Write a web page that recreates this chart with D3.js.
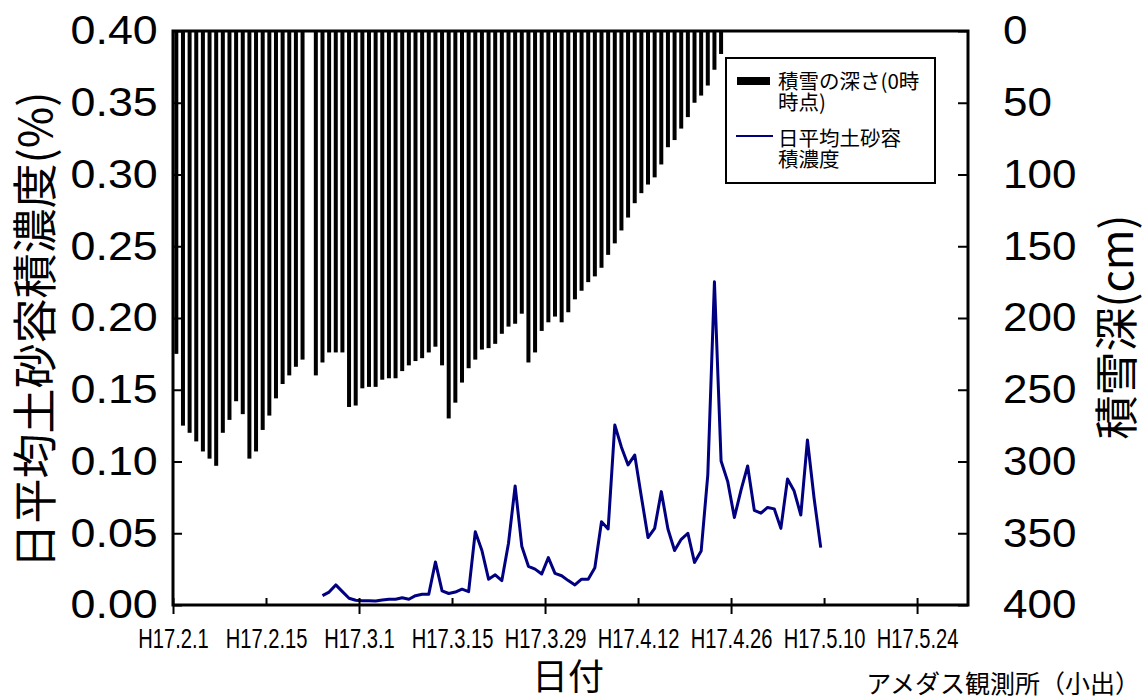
<!DOCTYPE html>
<html>
<head>
<meta charset="utf-8">
<script src="https://cdn.jsdelivr.net/npm/d3@7"></script>
<style>
  body { margin: 0; background: #fff; }
  svg { display: block; }
  .num { font-family: "Liberation Sans", Arial, sans-serif; }
  .jp { font-family: "Noto Sans CJK JP", sans-serif; }
</style>
</head>
<body>
<script>
// snow depth at 0:00 (cm), daily from H17.2.1 (null = no record)
const snowStart = new Date(2005, 1, 1);
const snowDepth = [225, 275, 280, 286, 293, 298, 303, 280, 271, 258,
    267, 298, 293, 278, 268, 256, 246, 240, 234, 229,
    null, 240, 231, 224, 224, 224, 262, 261, 249, 248,
    248, 243, 242, 242, 237, 233, 230, 228, 224, 220,
    233, 270, 259, 245, 235, 229, 222, 221, 218, 211,
    206, 204, 197, 231, 224, 209, 203, 199, 203, 196,
    187, 181, 175, 171, 165, 156, 148, 139, 130, 120,
    113, 107, 102, 93, 81, 76, 68, 60, 50, 45,
    38, 27, 16];

// daily mean sediment concentration (%), daily from H17.2.23
const sedStart = new Date(2005, 1, 23);
const sediment = [0.0065, 0.009, 0.014, 0.0093, 0.0047, 0.0033, 0.003, 0.003, 0.0028, 0.0035,
    0.004, 0.004, 0.005, 0.004, 0.0065, 0.0075, 0.0075, 0.030, 0.0098, 0.008,
    0.009, 0.011, 0.0093, 0.051, 0.038, 0.018, 0.021, 0.017, 0.043, 0.083,
    0.041, 0.027, 0.025, 0.0216, 0.033, 0.022, 0.0204, 0.017, 0.014, 0.018,
    0.018, 0.026, 0.058, 0.053, 0.1254, 0.110, 0.0976, 0.1045, 0.0755, 0.047,
    0.0534, 0.079, 0.053, 0.038, 0.0458, 0.050, 0.0297, 0.0376, 0.0906, 0.2253,
    0.1003, 0.086, 0.061, 0.080, 0.0969, 0.066, 0.064, 0.068, 0.067, 0.0534,
    0.0878, 0.0794, 0.0627, 0.115, 0.0744, 0.040];

const tickDates = ["2005-02-01", "2005-02-15", "2005-03-01", "2005-03-15", "2005-03-29",
    "2005-04-12", "2005-04-26", "2005-05-10", "2005-05-24"];
const tickLabels = ["H17.2.1", "H17.2.15", "H17.3.1", "H17.3.15", "H17.3.29",
    "H17.4.12", "H17.4.26", "H17.5.10", "H17.5.24"];
const leftTicks = [0, 0.05, 0.10, 0.15, 0.20, 0.25, 0.30, 0.35, 0.40];
const rightTicks = [0, 50, 100, 150, 200, 250, 300, 350, 400];

const W = 1142, H = 697;
const plot = { left: 173, right: 968, top: 31, bottom: 605 };

const parse = d3.timeParse("%Y-%m-%d");
const dayOf = (start, i) => d3.timeHour.offset(d3.timeDay.offset(start, i), 12);

const x = d3.scaleTime()
    .domain([new Date(2005, 1, 1), new Date(2005, 4, 31, 16)])
    .range([plot.left, plot.right]);
const yL = d3.scaleLinear().domain([0, 0.4]).range([plot.bottom, plot.top]);
const yR = d3.scaleLinear().domain([0, 400]).range([plot.top, plot.bottom]);

const svg = d3.select("body").append("svg")
    .attr("width", W)
    .attr("height", H);

//Bars (snow depth hanging from top)
const snow = snowDepth.map((v, i) => ({ date: dayOf(snowStart, i), v })).filter(d => d.v != null);
svg.append("g")
    .selectAll("rect")
    .data(snow)
    .enter()
    .append("rect")
    .attr("x", d => x(d.date) - 2)
    .attr("y", yR(0))
    .attr("width", 4)
    .attr("height", d => yR(d.v) - yR(0))
    .attr("fill", "#000");

//Line (sediment)
const sed = sediment.map((v, i) => ({ date: dayOf(sedStart, i), v }));
svg.append("path")
    .datum(sed)
    .attr("fill", "none")
    .attr("stroke", "#000080")
    .attr("stroke-width", 3)
    .attr("stroke-linejoin", "round")
    .attr("d", d3.line().x(d => x(d.date)).y(d => yL(d.v)));

//Left axis
const leftAxis = d3.axisLeft(yL)
    .tickValues(leftTicks)
    .tickFormat(d3.format(".2f"))
    .tickSizeInner(-9)
    .tickSizeOuter(0)
    .tickPadding(13.6);
svg.append("g")
    .attr("transform", "translate(" + plot.left + ",0)")
    .call(leftAxis)
    .call(g => g.select(".domain").remove())
    .call(g => g.selectAll("line").attr("stroke", "#000").attr("stroke-width", 2))
    .call(g => g.selectAll("text").attr("class", "num").attr("font-size", 40)
        .attr("transform", "scale(1.12,1)").attr("fill", "#000"));

//Right axis
const rightAxis = d3.axisRight(yR)
    .tickValues(rightTicks)
    .tickSizeInner(-10)
    .tickSizeOuter(0)
    .tickPadding(31.8);
svg.append("g")
    .attr("transform", "translate(" + plot.right + ",0)")
    .call(rightAxis)
    .call(g => g.select(".domain").remove())
    .call(g => g.selectAll("line").attr("stroke", "#000").attr("stroke-width", 2))
    .call(g => g.selectAll("text").attr("class", "num").attr("font-size", 40)
        .attr("transform", "scale(1.1,1)").attr("fill", "#000"));

//Bottom axis: inward ticks every 14 days with labels
const dates = tickDates.map(parse);
const bottomAxis = d3.axisBottom(x)
    .tickValues(dates)
    .tickFormat((d, i) => tickLabels[i])
    .tickSizeInner(-7)
    .tickSizeOuter(0)
    .tickPadding(23);
svg.append("g")
    .attr("transform", "translate(0," + plot.bottom + ")")
    .call(bottomAxis)
    .call(g => g.select(".domain").remove())
    .call(g => g.selectAll("line").attr("stroke", "#000").attr("stroke-width", 2))
    .call(g => g.selectAll("text")
        .attr("class", "num")
        .attr("font-size", 28)
        .attr("transform", "scale(0.72,1)")
        .attr("fill", "#000"));

//outward ticks every 28 days
const majorAxis = d3.axisBottom(x)
    .tickValues(dates.filter((d, i) => i % 2 == 0))
    .tickFormat("")
    .tickSizeInner(9)
    .tickSizeOuter(0);
svg.append("g")
    .attr("transform", "translate(0," + plot.bottom + ")")
    .call(majorAxis)
    .call(g => g.select(".domain").remove())
    .call(g => g.selectAll("line").attr("stroke", "#000").attr("stroke-width", 2));

//Frame
svg.append("rect")
    .attr("x", plot.left)
    .attr("y", plot.top)
    .attr("width", plot.right - plot.left)
    .attr("height", plot.bottom - plot.top)
    .attr("fill", "none")
    .attr("stroke", "#000")
    .attr("stroke-width", 3);

//Axis titles
svg.append("text")
    .attr("class", "jp")
    .attr("transform", "translate(32,330) rotate(-90)")
    .attr("text-anchor", "middle")
    .attr("dominant-baseline", "central")
    .attr("font-size", 45)
    .text("日平均土砂容積濃度(%)");

svg.append("text")
    .attr("class", "jp")
    .attr("transform", "translate(1114,327) rotate(-90)")
    .attr("text-anchor", "middle")
    .attr("dominant-baseline", "central")
    .attr("font-size", 44)
    .text("積雪深(cm)");

svg.append("text")
    .attr("class", "jp")
    .attr("x", 568)
    .attr("y", 674)
    .attr("text-anchor", "middle")
    .attr("dominant-baseline", "central")
    .attr("font-size", 36)
    .text("日付");

svg.append("text")
    .attr("class", "jp")
    .attr("x", 1140)
    .attr("y", 682)
    .attr("text-anchor", "end")
    .attr("dominant-baseline", "central")
    .attr("font-size", 25)
    .text("アメダス観測所（小出）");

//Legend
const legend = svg.append("g").attr("transform", "translate(726,58)");
legend.append("rect")
    .attr("width", 209)
    .attr("height", 125)
    .attr("fill", "#fff")
    .attr("stroke", "#000")
    .attr("stroke-width", 2);
legend.append("rect")
    .attr("x", 11)
    .attr("y", 19)
    .attr("width", 33)
    .attr("height", 8)
    .attr("fill", "#000");
legend.append("line")
    .attr("x1", 10)
    .attr("x2", 47)
    .attr("y1", 78)
    .attr("y2", 78)
    .attr("stroke", "#000080")
    .attr("stroke-width", 2);
const legendText = [
    { y: 22, t: "積雪の深さ(0時" },
    { y: 43, t: "時点)" },
    { y: 79, t: "日平均土砂容" },
    { y: 100, t: "積濃度" }
];
legend.selectAll(".lt")
    .data(legendText)
    .enter()
    .append("text")
    .attr("class", "jp")
    .attr("x", 52)
    .attr("y", d => d.y)
    .attr("dominant-baseline", "central")
    .attr("font-size", 20.5)
    .text(d => d.t);
</script>
</body>
</html>
